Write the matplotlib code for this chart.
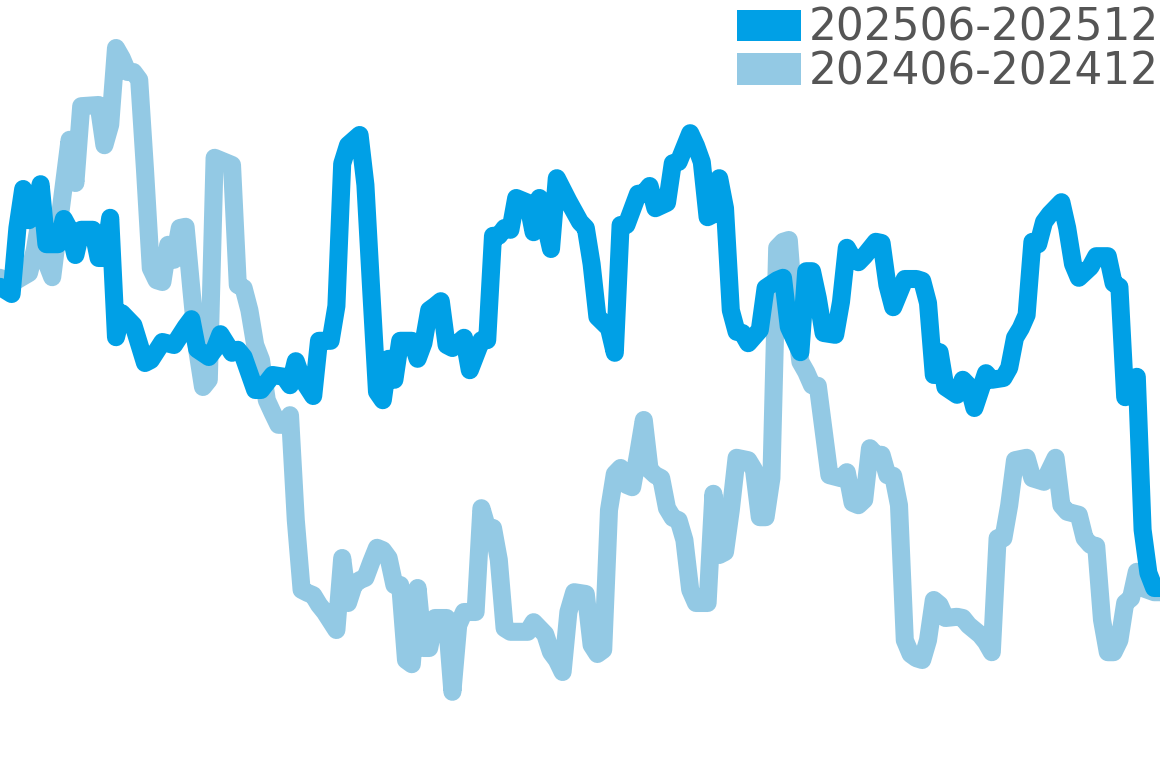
import matplotlib
matplotlib.use("Agg")
import matplotlib.pyplot as plt
from matplotlib.patches import Patch

# 2025 series: day index and value
days_2025 = [0, 2, 3, 4, 5, 6, 7, 8, 10, 11, 12, 13, 14, 16, 17, 18, 19, 20, 21, 23,
             25, 26, 28, 30, 32, 33, 34, 36, 37, 38, 40, 41, 42, 44, 45, 47, 49, 50, 51, 52,
             54, 55, 57, 58, 59, 60, 62, 63, 64, 65, 66, 67, 68, 69, 71, 72, 73, 74, 75, 76,
             77, 78, 80, 81, 83, 84, 85, 86, 87, 88, 89, 91, 92, 93, 95, 96, 98, 100, 101, 102,
             103, 105, 106, 107, 108, 110, 111, 112, 113, 115, 116, 117, 119, 120, 121, 122, 123, 124, 125, 126,
             127, 128, 129, 131, 132, 134, 135, 136, 138, 139, 140, 141, 142, 144, 145, 146, 147, 148, 149, 151,
             152, 153, 154, 156, 158, 159, 160, 161, 162, 163, 165, 166, 167, 168, 170, 171, 173, 174, 175, 176,
             177, 178, 179, 180, 181, 183, 184, 185, 186, 188, 189, 191, 192, 193, 194, 196, 197, 198, 199, 200]
vals_2025 = [72.2, 71.0, 82.0, 88.5, 83.3, 84.2, 89.3, 79.3, 79.3, 83.5, 81.7, 77.5, 81.7, 81.7, 77.0, 77.0, 83.7, 63.8, 67.8, 65.8,
             59.5, 60.0, 63.0, 62.5, 65.5, 66.8, 61.8, 60.5, 61.8, 64.3, 61.2, 61.7, 60.5, 55.0, 55.0, 57.5, 57.2, 55.8, 59.8, 57.0,
             54.0, 63.2, 63.2, 69.0, 92.7, 95.8, 97.5, 89.2, 71.7, 54.7, 53.3, 60.2, 56.7, 63.2, 63.2, 60.2, 62.8, 68.3, 69.0, 69.8,
             62.5, 62.0, 63.7, 58.3, 63.3, 63.3, 80.7, 80.7, 82.0, 81.7, 87.0, 86.2, 81.3, 87.0, 78.5, 90.3, 86.5, 83.0, 82.0, 76.0,
             67.2, 65.3, 61.2, 82.5, 82.5, 87.7, 87.8, 89.0, 85.3, 86.2, 92.8, 93.0, 97.8, 95.7, 93.0, 83.8, 84.3, 90.3, 85.3, 68.3,
             64.7, 64.5, 62.8, 65.0, 72.0, 73.3, 73.7, 65.5, 61.3, 74.8, 74.8, 70.3, 64.5, 64.2, 69.7, 78.7, 77.0, 76.3, 77.3, 79.7,
             79.5, 72.5, 68.8, 73.5, 73.5, 73.2, 69.5, 57.5, 61.3, 55.5, 54.2, 56.7, 55.7, 52.0, 57.8, 56.7, 57.0, 58.7, 63.7, 65.3,
             67.5, 79.7, 79.3, 83.0, 84.3, 86.3, 82.0, 76.0, 73.7, 75.5, 77.3, 77.3, 72.8, 72.2, 53.8, 57.2, 31.7, 24.5, 22.0, 22.0]

# 2024 series
days_2024 = [0, 2, 5, 6, 7, 8, 9, 12, 13, 14, 17, 18, 19, 20, 21, 22, 23, 24, 25, 26,
             27, 28, 29, 30, 31, 32, 33, 34, 35, 36, 37, 38, 40, 41, 42, 43, 44, 45, 46, 47,
             48, 49, 50, 51, 52, 53, 54, 55, 56, 58, 59, 60, 61, 62, 63, 64, 65, 66, 67, 68,
             69, 70, 71, 72, 73, 74, 75, 76, 77, 78, 79, 80, 82, 83, 84, 85, 86, 87, 88, 91,
             92, 93, 94, 95, 96, 97, 98, 99, 101, 102, 103, 104, 105, 106, 107, 108, 109, 110, 111, 112,
             113, 114, 115, 116, 117, 118, 119, 120, 122, 123, 124, 125, 126, 127, 129, 130, 131, 132, 133, 134,
             135, 136, 137, 138, 139, 140, 141, 142, 143, 145, 146, 147, 148, 149, 150, 151, 152, 153, 154, 155,
             156, 157, 158, 159, 160, 161, 162, 163, 165, 166, 167, 168, 169, 170, 171, 172, 173, 174, 175, 177,
             178, 180, 181, 182, 183, 184, 186, 187, 188, 189, 190, 191, 192, 193, 194, 195, 196, 197, 199, 200]
vals_2024 = [73.7, 72.8, 74.5, 78.3, 84.2, 76.3, 73.8, 96.7, 89.5, 102.3, 102.5, 95.8, 99.2, 112.0, 110.3, 108.0, 108.0, 106.7, 91.7, 75.3,
             73.3, 73.0, 79.2, 76.7, 82.0, 82.2, 71.7, 61.7, 55.5, 56.7, 93.7, 93.3, 92.5, 72.5, 72.0, 68.3, 62.5, 60.0, 53.3, 51.2,
             49.2, 49.2, 50.8, 33.3, 21.7, 21.2, 20.8, 19.2, 18.0, 15.0, 27.0, 19.5, 22.5, 23.3, 23.7, 26.3, 28.7, 28.3, 27.0, 22.5,
             22.5, 10.0, 9.3, 22.0, 12.0, 12.0, 17.0, 17.0, 17.0, 4.7, 15.8, 18.0, 18.0, 35.3, 32.0, 32.0, 26.7, 15.3, 14.7, 14.7,
             16.3, 15.3, 14.3, 11.3, 10.0, 8.0, 18.0, 21.3, 21.0, 12.5, 11.0, 11.7, 35.0, 41.0, 42.0, 39.2, 38.8, 44.2, 50.0, 41.7,
             40.8, 40.3, 35.3, 33.7, 33.3, 30.0, 21.7, 19.5, 19.5, 37.7, 27.5, 28.0, 35.0, 43.7, 43.3, 41.7, 33.8, 33.8, 40.3, 78.7,
             79.7, 80.0, 67.5, 59.7, 58.0, 55.8, 55.7, 48.3, 40.8, 40.3, 41.3, 36.2, 35.8, 36.7, 45.3, 44.2, 44.2, 40.8, 40.7, 35.8,
             13.3, 11.0, 10.3, 10.0, 13.3, 20.0, 19.2, 17.0, 17.2, 17.0, 15.8, 15.0, 14.2, 13.0, 11.3, 30.3, 30.3, 35.8, 43.3, 43.7,
             40.3, 39.7, 41.7, 43.7, 35.8, 34.7, 34.2, 30.3, 29.2, 29.0, 16.7, 11.3, 11.3, 13.3, 19.5, 20.3, 24.7, 22.0, 21.3, 21.3]

labels = ["202506-202512", "202406-202412"]
colors = ["#00A0E6", "#93C9E4"]

fig = plt.figure(figsize=(11.6, 7.68), dpi=100)
ax = fig.add_axes([0, 0, 1, 1])

ax.plot(days_2024, vals_2024, color=colors[1], lw=13, solid_joinstyle="round",
        solid_capstyle="round", zorder=2)
ax.plot(days_2025, vals_2025, color=colors[0], lw=13, solid_joinstyle="round",
        solid_capstyle="round", zorder=3)

ax.set_xlim(0, 200)
ax.set_ylim(-8, 120)
ax.axis("off")

handles = [Patch(facecolor=c, edgecolor="none") for c in colors]
leg = ax.legend(handles, labels, loc="upper right", bbox_to_anchor=(1.0, 0.993),
                bbox_transform=fig.transFigure, frameon=False, fontsize=31.5,
                handlelength=1.45, handleheight=0.74, handletextpad=0.18,
                labelspacing=0.02, borderaxespad=0, borderpad=0.03)
for t in leg.get_texts():
    t.set_color("#555555")

fig.savefig("out.png", dpi=100)
